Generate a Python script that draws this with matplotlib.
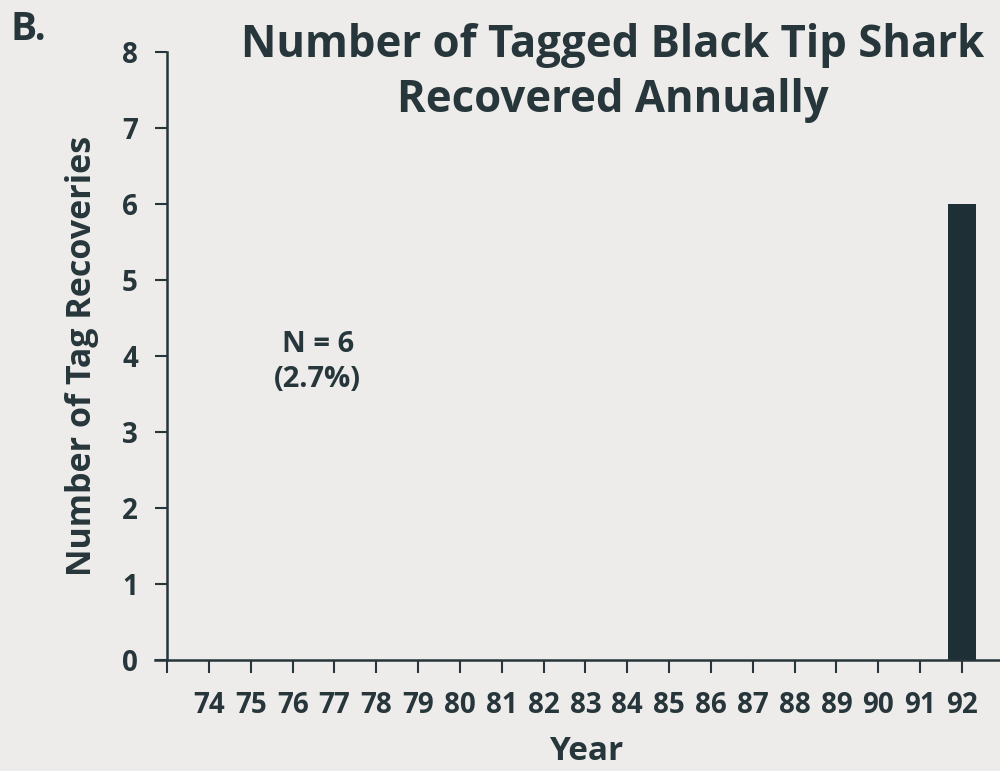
import matplotlib
matplotlib.use("Agg")
import matplotlib.pyplot as plt

years = list(range(74, 93))
recoveries = [0]*18 + [6]
tick_positions = [73] + years
tick_labels = [""] + [str(y) for y in years]
y_ticks = list(range(0, 9))

plt.rcParams['font.family'] = ['Open Sans', 'DejaVu Sans']
bg = '#eeecea'
ink = '#26363a'

fig = plt.figure(figsize=(10, 7.71), dpi=100, facecolor=bg)
ax = fig.add_axes([0.155, 0.144, 0.845, 0.7886])
ax.set_facecolor(bg)
ax.bar(years, recoveries, width=0.65, color='#1e3035')
ax.set_xlim(72.71, 92.91)
ax.set_ylim(0, 8)
ax.spines['top'].set_visible(False)
ax.spines['right'].set_visible(False)
ax.spines['left'].set_position(('data', 73))
for s in ('left', 'bottom'):
    ax.spines[s].set_color(ink)
    ax.spines[s].set_linewidth(1.8)
ax.set_xticks(tick_positions)
ax.set_xticklabels(tick_labels)
ax.set_yticks(y_ticks)
ax.tick_params(axis='both', colors=ink, labelcolor=ink, labelsize=20, width=1.5, length=9, direction='out')
ax.tick_params(axis='x', pad=13)
ax.tick_params(axis='y', pad=12)
for lab in ax.get_xticklabels() + ax.get_yticklabels():
    lab.set_fontweight('bold')

ax.set_xlabel('Year', fontsize=24, fontweight='bold', color=ink, va='center')
ax.xaxis.set_label_coords(0.51, -0.151)
ax.set_ylabel('Number of Tag Recoveries', fontsize=24.5, fontweight='bold', color=ink, va='center')
ax.yaxis.set_label_coords(-0.0864, 0.5)
ax.text(76.6, 3.92, 'N = 6\n(2.7%)', ha='center', va='center', fontsize=21,
        fontweight='bold', color=ink, linespacing=1.3)

fig.text(0.613, 0.905, 'Number of Tagged Black Tip Shark\nRecovered Annually', ha='center', va='center',
         fontsize=31.5, fontweight='bold', color=ink, linespacing=1.3)
fig.text(0.01, 0.962, 'B.', ha='left', va='center', fontsize=28, fontweight='bold', color=ink)

fig.savefig('out.png', dpi=100, facecolor=bg)
